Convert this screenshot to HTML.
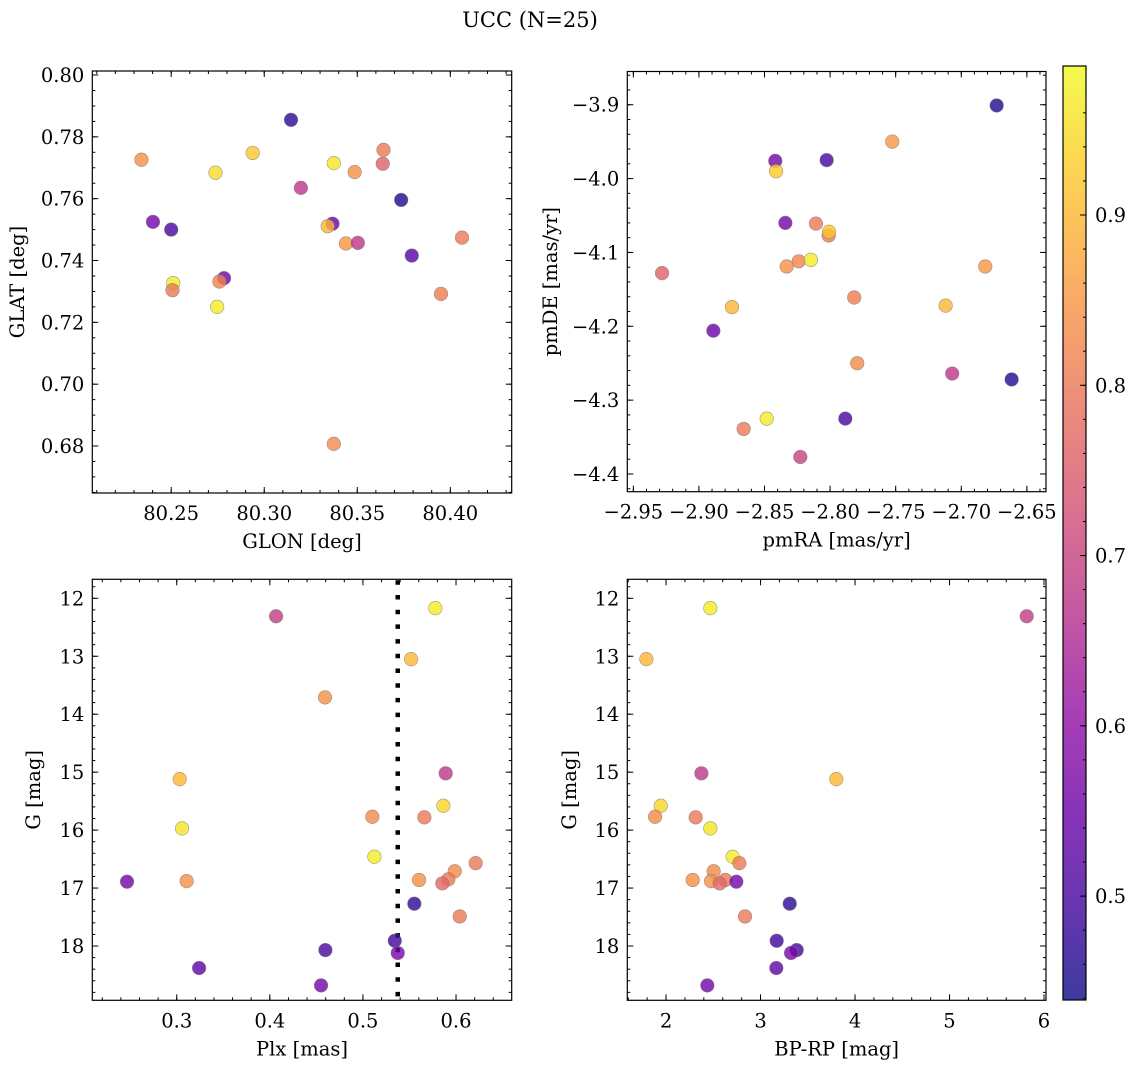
<!DOCTYPE html>
<html><head><meta charset="utf-8">
<style>
html,body{margin:0;padding:0;background:#fff;}
svg{display:block;font-family:"DejaVu Serif","Liberation Serif",serif;}
</style></head>
<body>
<svg id="fig" width="1136" height="1067" viewBox="0 0 1136 1067" xmlns="http://www.w3.org/2000/svg">
<text x="530" y="27" font-size="21" text-anchor="middle">UCC (N=25)</text>
</svg>
<script>
// ---- data ----
const glon=[80.234,80.3144,80.2938,80.2738,80.3374,80.3641,80.3637,80.3486,80.3197,80.3736,80.2402,80.25,80.3367,80.3341,80.3439,80.3503,80.4063,80.3793,80.2784,80.2759,80.2511,80.2507,80.2747,80.395,80.3374];
const glat=[0.7726,0.7855,0.7748,0.7684,0.7715,0.7758,0.7713,0.7686,0.7635,0.7596,0.7525,0.7500,0.7519,0.7511,0.7455,0.7457,0.7474,0.7416,0.7343,0.7332,0.7327,0.7304,0.7250,0.7292,0.6807];
const probTL=[0.84,0.47,0.92,0.95,0.96,0.80,0.76,0.84,0.68,0.46,0.56,0.50,0.55,0.90,0.85,0.68,0.80,0.52,0.55,0.82,0.97,0.80,0.97,0.81,0.83];
const pmra=[-2.673,-2.7526,-2.8418,-2.8412,-2.8026,-2.8341,-2.8108,-2.8011,-2.8008,-2.8331,-2.8239,-2.8146,-2.9281,-2.6817,-2.8748,-2.7119,-2.7816,-2.889,-2.7793,-2.7069,-2.6616,-2.8483,-2.7884,-2.8659,-2.8227];
const pmde=[-3.901,-3.950,-3.976,-3.990,-3.975,-4.060,-4.061,-4.077,-4.072,-4.119,-4.112,-4.110,-4.128,-4.119,-4.174,-4.172,-4.161,-4.206,-4.250,-4.264,-4.272,-4.325,-4.325,-4.339,-4.377];
const probTR=[0.46,0.85,0.56,0.93,0.50,0.56,0.80,0.80,0.92,0.84,0.82,0.97,0.76,0.85,0.90,0.90,0.81,0.55,0.83,0.68,0.46,0.97,0.50,0.80,0.70];
const plx=[0.4067,0.5778,0.5517,0.4593,0.3032,0.5889,0.5864,0.5101,0.5660,0.3057,0.5123,0.6211,0.5986,0.2466,0.3107,0.5603,0.5917,0.5853,0.5552,0.6040,0.5342,0.5374,0.4597,0.3240,0.4550];
const gmag=[12.31,12.17,13.05,13.71,15.12,15.02,15.58,15.77,15.78,15.97,16.46,16.57,16.71,16.89,16.88,16.86,16.85,16.92,17.27,17.49,17.91,18.12,18.07,18.38,18.68];
const probBL=[0.69,0.97,0.90,0.84,0.90,0.68,0.94,0.83,0.80,0.96,0.97,0.80,0.83,0.56,0.84,0.84,0.80,0.77,0.47,0.80,0.49,0.57,0.50,0.53,0.56];
const bprp=[2.469,5.817,1.792,2.374,3.802,1.944,1.884,2.314,2.469,2.705,2.776,2.504,2.282,2.476,2.628,2.568,2.744,3.309,2.836,3.171,3.383,3.323,3.167,2.437];
const gmagBR=[12.17,12.31,13.05,15.02,15.12,15.58,15.77,15.78,15.97,16.46,16.57,16.71,16.86,16.88,16.86,16.92,16.89,17.27,17.49,17.91,18.07,18.12,18.38,18.68];
const probBR=[0.97,0.69,0.90,0.68,0.90,0.94,0.83,0.80,0.96,0.97,0.80,0.83,0.84,0.84,0.80,0.77,0.56,0.47,0.80,0.49,0.50,0.57,0.53,0.56];
const plxCut=[0.5374];
const ticksTLx=[80.25,80.30,80.35,80.40], ticksTLy=[0.68,0.70,0.72,0.74,0.76,0.78,0.80];
const ticksTRx=[-2.95,-2.90,-2.85,-2.80,-2.75,-2.70,-2.65], ticksTRy=[-4.4,-4.3,-4.2,-4.1,-4.0,-3.9];
const ticksBLx=[0.3,0.4,0.5,0.6], ticksGy=[12,13,14,15,16,17,18];
const ticksBRx=[2,3,4,5,6];
const ticksCbar=[0.5,0.6,0.7,0.8,0.9];

const NS="http://www.w3.org/2000/svg";
const FS=19.5;
const svg=document.getElementById('fig');
function mk(tag,attrs,parent){const e=document.createElementNS(NS,tag);for(const k in attrs)e.setAttribute(k,attrs[k]);(parent||svg).appendChild(e);return e;}
const PL=[[13,8,135],[65,4,157],[106,0,168],[143,13,164],[177,42,144],[204,71,120],[225,100,98],[242,132,75],[252,166,54],[252,206,37],[240,249,33]];
const CMIN=0.439,CMAX=0.9875;
function plasma(t){t=Math.max(0,Math.min(1,t))*10;const i=Math.min(9,Math.floor(t)),f=t-i;const a=PL[i],b=PL[i+1];
 return 'rgb('+[0,1,2].map(k=>Math.round(a[k]+(b[k]-a[k])*f)).join(',')+')';}
function cmap(v){return plasma((v-CMIN)/(CMAX-CMIN));}
function fmtNum(v,d){const s=Math.abs(v).toFixed(d);return v<0?'\u2212'+s:s;}

function panel(o){
 const g=mk('g',{});
 
 
 const X=v=>o.L+(v-o.x0)/(o.x1-o.x0)*(o.R-o.L);
 const Y=o.inv?(v=>o.T+(v-o.y0)/(o.y1-o.y0)*(o.B-o.T)):(v=>o.B-(v-o.y0)/(o.y1-o.y0)*(o.B-o.T));
 const eps=1e-9;
 for(let v=Math.ceil(o.x0/o.xm-eps)*o.xm;v<=o.x1+eps;v+=o.xm){const x=X(v);
  mk('line',{x1:x,x2:x,y1:o.B,y2:o.B-3,stroke:'#000','stroke-width':1},g);mk('line',{x1:x,x2:x,y1:o.T,y2:o.T+3,stroke:'#000','stroke-width':1},g);}
 for(let v=Math.ceil(Math.min(o.y0,o.y1)/o.ym-eps)*o.ym;v<=Math.max(o.y0,o.y1)+eps;v+=o.ym){const y=Y(v);
  mk('line',{x1:o.L,x2:o.L+3,y1:y,y2:y,stroke:'#000','stroke-width':1},g);mk('line',{x1:o.R,x2:o.R-3,y1:y,y2:y,stroke:'#000','stroke-width':1},g);}
 for(const v of o.xt){const x=X(v);
  mk('line',{x1:x,x2:x,y1:o.B,y2:o.B-6,stroke:'#000','stroke-width':1},g);mk('line',{x1:x,x2:x,y1:o.T,y2:o.T+6,stroke:'#000','stroke-width':1},g);
  const t=mk('text',{x:x,y:o.B+27,'font-size':FS,'text-anchor':'middle'},g);t.textContent=fmtNum(v,o.xd);
  
  }
 for(const v of o.yt){const y=Y(v);
  mk('line',{x1:o.L,x2:o.L+6,y1:y,y2:y,stroke:'#000','stroke-width':1},g);mk('line',{x1:o.R,x2:o.R-6,y1:y,y2:y,stroke:'#000','stroke-width':1},g);
  const t=mk('text',{x:o.L-8,y:y+7,'font-size':FS,'text-anchor':'end'},g);t.textContent=fmtNum(v,o.yd);
  
  }
 if(o.vline){for(const v of o.vline){const x=X(v);
  const l=mk('line',{x1:x,x2:x,y1:o.T+1,y2:o.B,stroke:'#000','stroke-width':4.5,'stroke-dasharray':'4.5 10.2'},g);
  
  }}
 for(let i=0;i<o.xs.length;i++){
  const c=mk('circle',{cx:X(o.xs[i]),cy:Y(o.ys[i]),r:6.8,fill:cmap(o.cs[i]),'fill-opacity':0.8,stroke:'#777','stroke-opacity':0.7,'stroke-width':0.6},g);
  
  }
 mk('rect',{x:o.L,y:o.T,width:o.R-o.L,height:o.B-o.T,fill:'none',stroke:'#000','stroke-width':1.2},g);
 const xl=mk('text',{x:(o.L+o.R)/2,y:o.B+55,'font-size':FS,'text-anchor':'middle'},g);xl.textContent=o.xlab;
 
 
 const yx=o.ylx,yy=(o.T+o.B)/2;
 const yl=mk('text',{x:yx,y:yy,'font-size':FS,'text-anchor':'middle',transform:'rotate(-90 '+yx+' '+yy+')'},g);yl.textContent=o.ylab;
 
 
}
panel({name:'glon-glat-panel',L:92.3,R:511.7,T:71,B:493,x0:80.2076,x1:80.433,y0:0.6648,y1:0.8013,inv:false,xm:0.01,ym:0.005,xt:ticksTLx,yt:ticksTLy,xd:2,yd:2,xs:glon,ys:glat,cs:probTL,xlab:'GLON [deg]',ylab:'GLAT [deg]',ylx:24});
panel({name:'pm-panel',L:627.3,R:1046,T:71.5,B:491.7,x0:-2.9546,x1:-2.6354,y0:-4.424,y1:-3.855,inv:false,xm:0.01,ym:0.02,xt:ticksTRx,yt:ticksTRy,xd:2,yd:1,xs:pmra,ys:pmde,cs:probTR,xlab:'pmRA [mas/yr]',ylab:'pmDE [mas/yr]',ylx:557});
panel({name:'plx-g-panel',L:92.3,R:511.7,T:579.3,B:1000.3,x0:0.2093,x1:0.6598,y0:11.672,y1:18.937,inv:true,xm:0.02,ym:0.2,xt:ticksBLx,yt:ticksGy,xd:1,yd:0,xs:plx,ys:gmag,cs:probBL,xlab:'Plx [mas]',ylab:'G [mag]',ylx:40,vline:plxCut});
panel({name:'cmd-panel',L:627.3,R:1046,T:579.3,B:1000.3,x0:1.590,x1:6.021,y0:11.672,y1:18.937,inv:true,xm:0.2,ym:0.2,xt:ticksBRx,yt:ticksGy,xd:0,yd:0,xs:bprp,ys:gmagBR,cs:probBR,xlab:'BP-RP [mag]',ylab:'G [mag]',ylx:576});

(function(){
 const L=1063,R=1086,T=66,B=1000;
 const Yc=v=>B-(v-CMIN)/(CMAX-CMIN)*(B-T);
 const defs=mk('defs',{});
 const gr=mk('linearGradient',{id:'cbg',x1:0,y1:1,x2:0,y2:0},defs);
 for(let i=0;i<=20;i++){mk('stop',{offset:i/20,'stop-color':plasma(i/20),'stop-opacity':0.8},gr);}
 const cb=mk('g',{});
 
 
 mk('rect',{x:L,y:T,width:R-L,height:B-T,fill:'url(#cbg)'},cb);
 for(let v=0.44;v<=0.98;v+=0.02){const y=Yc(v);mk('line',{x1:R,x2:R-3,y1:y,y2:y,stroke:'#000','stroke-width':1},cb);}
 for(const v of ticksCbar){const y=Yc(v);mk('line',{x1:R,x2:R-6,y1:y,y2:y,stroke:'#000','stroke-width':1},cb);
  const t=mk('text',{x:R+9,y:y+7,'font-size':FS},cb);t.textContent=v.toFixed(1);
  
  }
 mk('rect',{x:L,y:T,width:R-L,height:B-T,fill:'none',stroke:'#000','stroke-width':1.2},cb);
})();
</script>
</body></html>
